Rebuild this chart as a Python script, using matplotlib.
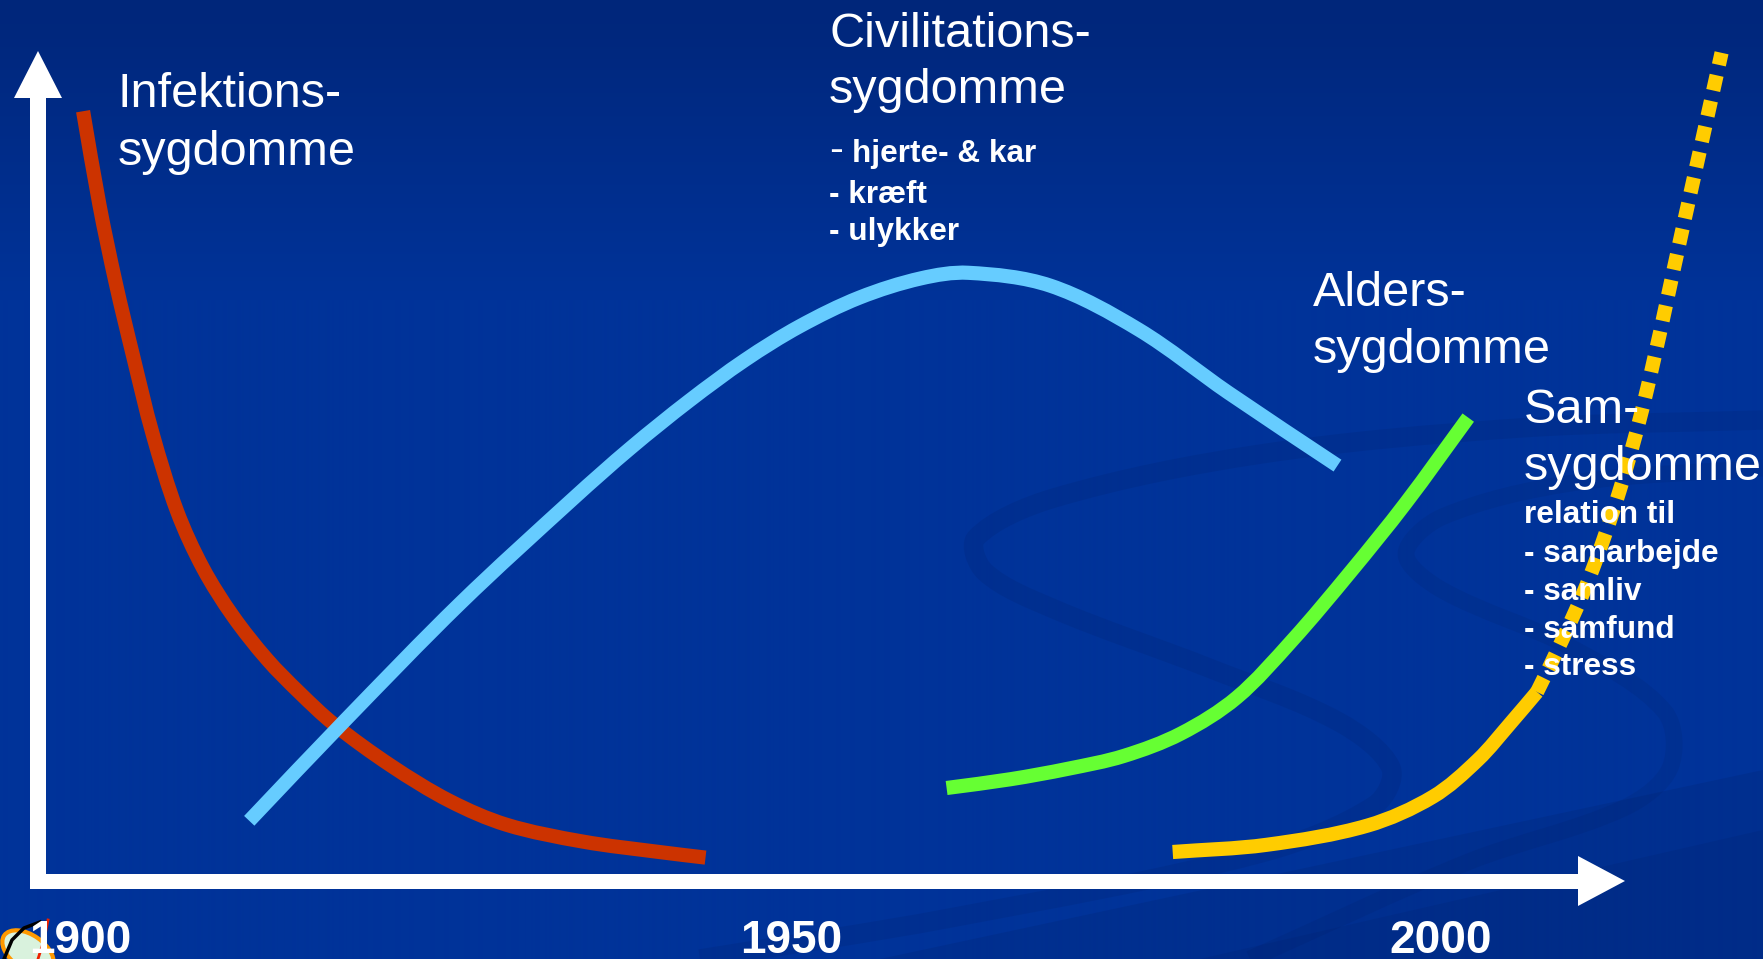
import numpy as np
import matplotlib
matplotlib.use("Agg")
import matplotlib.pyplot as plt
from matplotlib.patches import Polygon, Ellipse, Rectangle, PathPatch
from matplotlib.path import Path

W, H = 1763, 959

# ---------------- data ----------------
# x = year, y = relative disease burden (arbitrary units, 0 = time axis)
infek_year = [1900.3, 1901.5, 1902.7, 1904.0, 1905.4, 1907.2, 1909.1, 1911.3, 1913.8,
              1916.2, 1918.7, 1922.9, 1927.2, 1931.4, 1937.0, 1942.6, 1946.0]
infek_val = [96.1, 84.4, 74.6, 65.3, 55.8, 46.1, 39.0, 33.0, 27.6,
             23.4, 19.5, 14.3, 9.9, 6.9, 4.8, 3.5, 2.8]

civil_year = [1912.5, 1919.5, 1928.0, 1936.3, 1940.5, 1944.8, 1948.9, 1952.9, 1957.3,
              1961.8, 1965.3, 1971.3, 1977.8, 1984.4, 1992.4]
civil_val = [7.4, 19.9, 34.6, 47.7, 54.0, 59.9, 65.0, 69.2, 72.8,
             75.2, 75.9, 74.3, 68.8, 60.9, 51.8]

alder_year = [1963.7, 1968.4, 1972.6, 1976.7, 1980.9, 1985.0, 1989.1, 1993.3, 1997.4, 2002.0]
alder_val = [11.5, 12.6, 13.9, 15.5, 18.3, 22.8, 30.0, 38.4, 47.1, 57.8]

sam_year = [1980.3, 1987.2, 1994.6, 1999.4, 2002.7, 2005.2, 2007.05]
sam_val = [3.5, 4.4, 6.8, 10.4, 15.0, 19.8, 23.5]

sam_future_year = [2007.05, 2008.9, 2010.9, 2013.1, 2015.0, 2017.8, 2020.6]
sam_future_val = [23.5, 30.0, 37.8, 48.6, 60.4, 81.9, 103.4]

year_labels = ["1900", "1950", "2000"]


def smooth_path(xs, ys, sx=1.0, sy=1.0):
    """Cubic Bezier path through the given points (chord-length Catmull-Rom handles).
    sx, sy: on-screen size of one data unit, so chord lengths follow what is seen."""
    P = np.column_stack([xs, ys]).astype(float)
    Q = P * np.array([sx, sy])
    d = np.hypot(*np.diff(Q, axis=0).T)
    t = np.concatenate([[0.0], np.cumsum(d)])
    n = len(P)
    m = np.zeros_like(P)
    m[0] = (P[1] - P[0]) / d[0]
    m[-1] = (P[-1] - P[-2]) / d[-1]
    for i in range(1, n - 1):
        m[i] = (P[i + 1] - P[i - 1]) / (t[i + 1] - t[i - 1])
    verts = [P[0]]
    codes = [Path.MOVETO]
    for i in range(n - 1):
        verts += [P[i] + m[i] * d[i] / 3.0, P[i + 1] - m[i + 1] * d[i] / 3.0, P[i + 1]]
        codes += [Path.CURVE4] * 3
    return Path(verts, codes)


# ---------------- figure ----------------
fig = plt.figure(figsize=(W / 100, H / 100), dpi=100)

# background (pixel coordinates)
bg = fig.add_axes([0, 0, 1, 1], zorder=0)
bg.set_xlim(0, W)
bg.set_ylim(H, 0)
bg.axis("off")
top = np.array([0, 38, 122]) / 255
mid = np.array([0, 51, 153]) / 255
t = np.clip(np.arange(H) / 300.0, 0, 1)[:, None]
grad = (top[None, :] * (1 - t) + mid[None, :] * t)[:, None, :]
grad = np.repeat(grad, 4, axis=1)
bg.imshow(grad, extent=[0, W, H, 0], aspect="auto", zorder=0, interpolation="bilinear")

swirl = "#001c5e"
bandA = np.array([(1763, 420), (1520, 428), (1261, 454), (1054, 498), (976, 538), (985, 572),
                  (1054, 609), (1209, 668), (1339, 722), (1391, 768), (1375, 805),
                  (1261, 853), (950, 918), (700, 959)])
bandB = np.array([(1763, 468), (1572, 483), (1442, 517), (1406, 554), (1442, 590),
                  (1572, 648), (1665, 712), (1670, 768), (1624, 808), (1468, 862), (1250, 959)])
bg.add_patch(PathPatch(smooth_path(bandA[:, 0], bandA[:, 1]), facecolor="none", edgecolor=swirl,
                       lw=14, alpha=0.15, joinstyle="round", zorder=1))
bg.add_patch(PathPatch(smooth_path(bandB[:, 0], bandB[:, 1]), facecolor="none", edgecolor=swirl,
                       lw=12, alpha=0.13, joinstyle="round", zorder=1))
bg.add_patch(Polygon([(880, 959), (1763, 770), (1763, 959)], closed=True,
                     facecolor=swirl, alpha=0.16, edgecolor="none", zorder=1))
bg.add_patch(Polygon([(1200, 959), (1763, 830), (1763, 959)], closed=True,
                     facecolor=swirl, alpha=0.14, edgecolor="none", zorder=1))

# data axes
X0, PX_YEAR = 79.0, 13.62
Y0, PX_VAL = 880.0, 8.0
ax = fig.add_axes([0, 0, 1, 1], zorder=1)
ax.patch.set_alpha(0)
ax.set_xlim(1900 - X0 / PX_YEAR, 1900 + (W - X0) / PX_YEAR)
ax.set_ylim(-(H - Y0) / PX_VAL, Y0 / PX_VAL)
ax.axis("off")

lw = 10.2
series = [
    (infek_year, infek_val, "#CC3300", "solid"),
    (civil_year, civil_val, "#66CCFF", "solid"),
    (alder_year, alder_val, "#66FF33", "solid"),
    (sam_year, sam_val, "#FFCC00", "solid"),
    (sam_future_year, sam_future_val, "#FFCC00", (0, (1.1, 0.75))),
]
for xs, ys, col, ls in series:
    ax.add_patch(PathPatch(smooth_path(xs, ys, PX_YEAR, PX_VAL), facecolor="none",
                           edgecolor=col, lw=lw, linestyle=ls, capstyle="butt",
                           joinstyle="round", transform=ax.transData))

# overlay: axes arrows and text (pixel coordinates)
ov = fig.add_axes([0, 0, 1, 1], zorder=2)
ov.patch.set_alpha(0)
ov.set_xlim(0, W)
ov.set_ylim(H, 0)
ov.axis("off")

white = "white"
ov.add_patch(Rectangle((30, 97), 16, 792, facecolor=white, edgecolor="none"))
ov.add_patch(Polygon([(14, 98), (62, 98), (38, 51)], closed=True, facecolor=white, edgecolor="none"))
ov.add_patch(Rectangle((30, 874), 1550, 15, facecolor=white, edgecolor="none"))
ov.add_patch(Polygon([(1578, 856), (1578, 906), (1625, 881)], closed=True, facecolor=white, edgecolor="none"))

# small logo in the corner
ov.add_patch(Ellipse((28, 952), 58, 34, angle=35, facecolor="#d9f2dd", edgecolor="#ff9900", lw=3, zorder=1))
ov.plot([4, 12, 24, 40], [959, 940, 928, 922], color="black", lw=2.5, zorder=1)
ov.plot([48, 44, 38], [920, 940, 959], color="#ee2200", lw=2, zorder=1)

FONT = "Liberation Sans"


def txt(x, y, s, size, bold=False):
    ov.text(x, y, s, fontsize=size, fontweight="bold" if bold else "normal",
            color=white, family=FONT, ha="left", va="baseline", zorder=5)


BIG = 35
SMALL = 22.7

txt(118, 107, "Infektions-", BIG)
txt(118, 165, "sygdomme", BIG)

txt(829, 47, "Civilitations-", BIG)
txt(829, 103, "sygdomme", BIG)
txt(829, 162, "-", 30)
txt(852, 162, "hjerte- & kar", SMALL, True)
txt(829, 203, "- kræft", SMALL, True)
txt(829, 240, "- ulykker", SMALL, True)

txt(1313, 306, "Alders-", BIG)
txt(1313, 363, "sygdomme", BIG)

txt(1524, 423, "Sam-", BIG)
txt(1524, 480, "sygdomme", BIG)
txt(1524, 523, "relation til", SMALL, True)
txt(1524, 562, "- samarbejde", SMALL, True)
txt(1524, 600, "- samliv", SMALL, True)
txt(1524, 638, "- samfund", SMALL, True)
txt(1524, 675, "- stress", SMALL, True)

label_px = [80, 791, 1441]
for lab, xp in zip(year_labels, label_px):
    ov.text(xp, 953, lab, fontsize=33, fontweight="bold", color=white, family=FONT,
            ha="center", va="baseline", zorder=5)

fig.savefig("out.png", dpi=100)
